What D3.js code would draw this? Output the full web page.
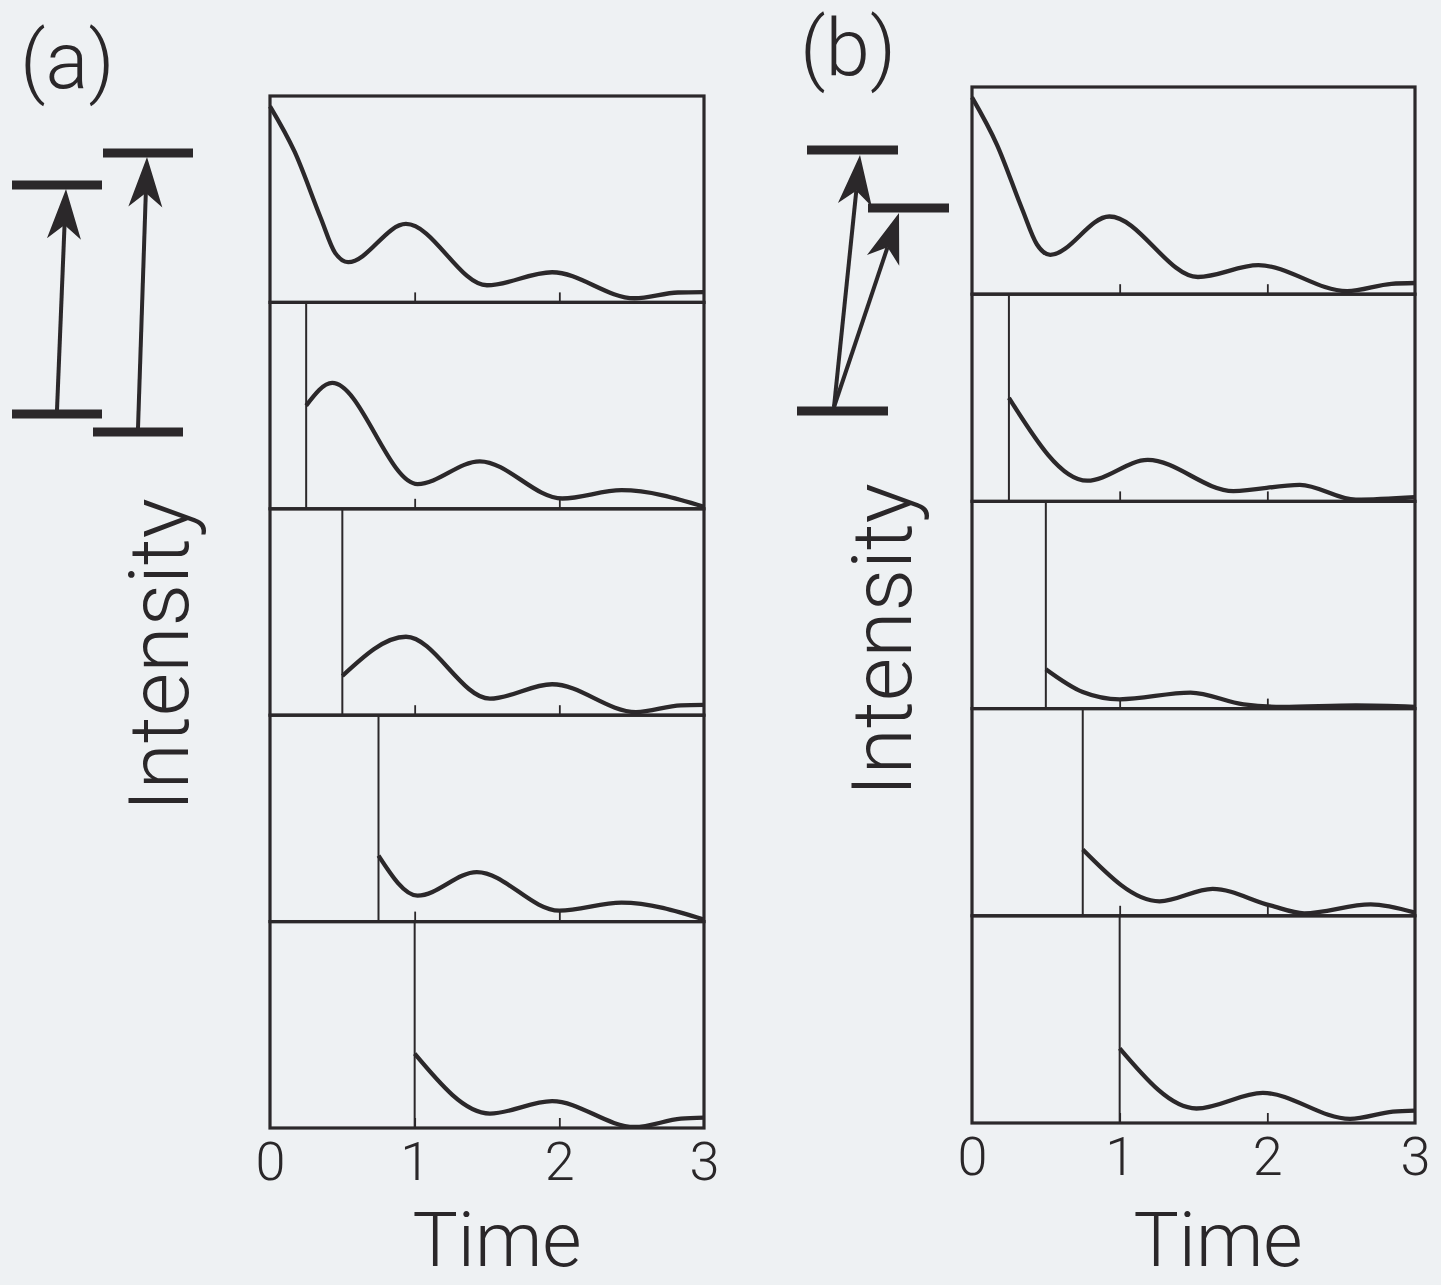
<!DOCTYPE html>
<html>
<head>
<meta charset="utf-8">
<script src="https://cdn.jsdelivr.net/npm/d3@7"></script>
<style>
  html, body { margin: 0; padding: 0; background: #eef1f3; }
  svg { display: block; }
  text { font-family: Roboto, "Liberation Sans", sans-serif; font-weight: 300; fill: #2a2729; }
</style>
</head>
<body>
<script>
const W = 1441, H = 1285;
const ink = "#2b282a";

// Start (delay) time of each stacked trace, top to bottom.
const startTimes = [0, 0.25, 0.5, 0.75, 1.0];
const timeTicks = [0, 1, 2, 3];

// Panel (a) traces, [time, intensity].
const tracesA = [
  [[0, 0.95], [0.17, 0.73], [0.35, 0.41], [0.45, 0.24], [0.54, 0.195], [0.94, 0.38], [1.5, 0.083], [1.95, 0.146], [2.52, 0.02], [2.82, 0.048], [3, 0.05]],
  [[0.25, 0.5], [0.43, 0.61], [1.02, 0.12], [1.45, 0.23], [2.02, 0.05], [2.43, 0.09], [3, 0.01]],
  [[0.5, 0.19], [0.94, 0.38], [1.52, 0.08], [1.95, 0.15], [2.53, 0.015], [2.84, 0.048], [3, 0.05]],
  [[0.75, 0.32], [1.02, 0.126], [1.43, 0.24], [2.0, 0.053], [2.43, 0.092], [3, 0.01]],
  [[1, 0.36], [1.52, 0.07], [1.95, 0.13], [2.52, 0.005], [2.84, 0.045], [3, 0.05]]
];

// Panel (b) traces.
const tracesB = [
  [[0, 0.95], [0.17, 0.72], [0.34, 0.41], [0.44, 0.24], [0.53, 0.19], [0.93, 0.375], [1.53, 0.083], [1.94, 0.14], [2.54, 0.015], [2.84, 0.05], [3, 0.054]],
  [[0.25, 0.5], [0.78, 0.1], [1.19, 0.2], [1.77, 0.05], [2.22, 0.08], [2.6, 0.008], [3, 0.02]],
  [[0.5, 0.19], [0.75, 0.08], [1.0, 0.045], [1.48, 0.077], [1.84, 0.02], [2.1, 0.008], [2.6, 0.015], [3, 0.008]],
  [[0.75, 0.32], [1.27, 0.07], [1.63, 0.13], [2.02, 0.05], [2.25, 0.012], [2.7, 0.055], [3, 0.015]],
  [[1, 0.36], [1.52, 0.07], [1.97, 0.145], [2.56, 0.02], [2.85, 0.055], [3, 0.06]]
];

const svg = d3.select("body").append("svg")
  .attr("width", W)
  .attr("height", H);

svg.append("rect").attr("width", W).attr("height", H).attr("fill", "#eef1f3");

// Draw one column of stacked traces.
function drawPanel(cfg) {
  const g = svg.append("g");
  const x = d3.scaleLinear().domain([0, 3]).range([cfg.left, cfg.right]);
  const rows = d3.scaleBand().domain(d3.range(cfg.traces.length)).range([cfg.top, cfg.bottom]);

  cfg.traces.forEach((pts, i) => {
    const y0 = rows(i), y1 = rows(i) + rows.bandwidth();
    const y = d3.scaleLinear().domain([0, 1]).range([y1, y0]);

    // frame
    g.append("rect")
      .attr("x", cfg.left).attr("y", y0)
      .attr("width", cfg.right - cfg.left).attr("height", y1 - y0)
      .attr("fill", "none").attr("stroke", ink).attr("stroke-width", 3.2);

    // small inner ticks at 1 and 2
    g.append("g")
      .attr("transform", `translate(0,${y1})`)
      .call(d3.axisBottom(x).tickValues([1, 2]).tickSize(-10).tickFormat(""))
      .call(a => a.select(".domain").remove())
      .call(a => a.selectAll("line").attr("stroke", ink).attr("stroke-width", 1.8));

    // delay marker
    const t0 = startTimes[i];
    if (t0 > 0) {
      g.append("line")
        .attr("x1", x(t0)).attr("x2", x(t0))
        .attr("y1", y0).attr("y2", y1)
        .attr("stroke", ink).attr("stroke-width", 2);
    }

    g.append("path")
      .datum(pts)
      .attr("fill", "none")
      .attr("stroke", ink)
      .attr("stroke-width", 4.3)
      .attr("stroke-linejoin", "round")
      .attr("d", d3.line().x(d => x(d[0])).y(d => y(d[1])).curve(d3.curveMonotoneX));
  });

  // tick labels under the last row
  g.append("g")
    .attr("transform", `translate(0,${cfg.bottom})`)
    .call(d3.axisBottom(x).tickValues(timeTicks).tickSize(0).tickPadding(0).tickFormat(d3.format("d")))
    .call(a => a.select(".domain").remove())
    .call(a => a.selectAll("text")
      .attr("dy", null).attr("y", 52)
      .style("font-size", "54px")
      .style("font-family", "Roboto, 'Liberation Sans', sans-serif")
      .style("font-weight", 300)
      .attr("fill", "#2a2729"));

  g.append("text")
    .attr("x", cfg.timeX).attr("y", 1266)
    .attr("text-anchor", "middle")
    .style("font-size", "76px")
    .text("Time");

  g.append("text")
    .attr("transform", `translate(${cfg.intX},${cfg.intY}) rotate(-90)`)
    .attr("text-anchor", "middle")
    .style("font-size", "84px")
    .text("Intensity");

  g.append("text")
    .attr("x", cfg.labX).attr("y", cfg.labY)
    .style("font-size", "80px")
    .text(cfg.label);
}

drawPanel({ traces: tracesA, left: 270, right: 704, top: 96, bottom: 1128,
  timeX: 497, intX: 188, intY: 655, labX: 20, labY: 88, label: "(a)" });
drawPanel({ traces: tracesB, left: 972, right: 1415, top: 87, bottom: 1123,
  timeX: 1218, intX: 911, intY: 640, labX: 800, labY: 75, label: "(b)" });

// Energy level sketches
const lv = svg.append("g").attr("stroke", ink).attr("fill", ink);
function level(x1, x2, yy) {
  lv.append("line").attr("x1", x1).attr("x2", x2).attr("y1", yy).attr("y2", yy).attr("stroke-width", 9);
}
function arrow(xa, ya, xb, yb) {
  const ang = Math.atan2(yb - ya, xb - xa);
  const len = 50, half = 17, notch = 36;
  const ux = Math.cos(ang), uy = Math.sin(ang);
  const px = -uy, py = ux;
  const bx = xb - ux * len, by = yb - uy * len;
  const nx = xb - ux * notch, ny = yb - uy * notch;
  lv.append("line").attr("x1", xa).attr("y1", ya).attr("x2", nx).attr("y2", ny).attr("stroke-width", 4);
  lv.append("path").attr("stroke", "none")
    .attr("d", `M${xb},${yb} L${bx + px * half},${by + py * half} L${nx},${ny} L${bx - px * half},${by - py * half} Z`);
}
level(12, 102, 185); level(12, 102, 414);
arrow(57, 410, 66, 189);
level(103, 193, 153); level(93, 183, 432);
arrow(138, 428, 147, 157);

level(807, 898, 150); level(868, 949, 208); level(797, 888, 411);
arrow(834, 407, 860, 155);
arrow(834, 407, 899, 213);
</script>
</body>
</html>
